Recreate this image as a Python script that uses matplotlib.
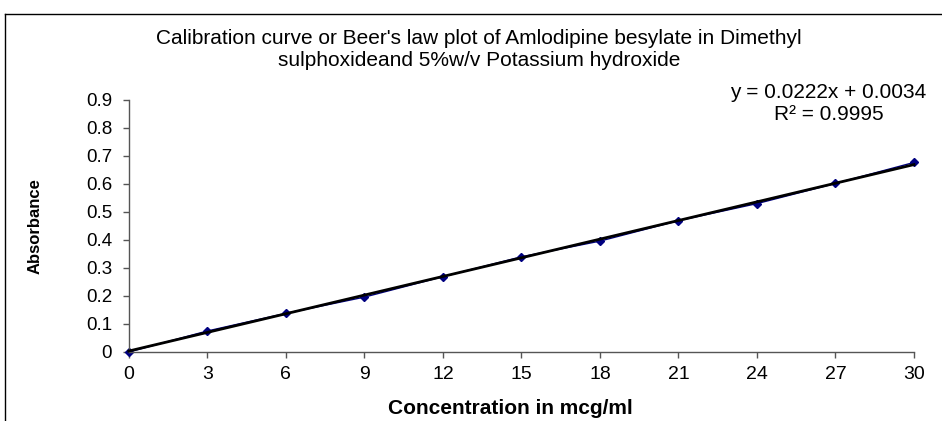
"""Calibration curve (Beer's law) of Amlodipine besylate, Excel-style chart."""

import matplotlib

matplotlib.use("Agg")
import matplotlib.pyplot as plt
from matplotlib.lines import Line2D

concentration = [0, 3, 6, 9, 12, 15, 18, 21, 24, 27, 30]
absorbance = [0.0, 0.075, 0.138, 0.196, 0.269, 0.340, 0.396, 0.469, 0.530, 0.602, 0.677]
fit_slope = 0.0222
fit_intercept = 0.0034
r_squared = 0.9995
x_ticks = [0, 3, 6, 9, 12, 15, 18, 21, 24, 27, 30]
y_ticks = [0, 0.1, 0.2, 0.3, 0.4, 0.5, 0.6, 0.7, 0.8, 0.9]
y_ticklabels = ["0", "0.1", "0.2", "0.3", "0.4", "0.5", "0.6", "0.7", "0.8", "0.9"]

plt.rcParams["font.family"] = ["Liberation Sans", "DejaVu Sans"]

W, H = 942, 421
fig = plt.figure(figsize=(W / 100, H / 100), dpi=100)

# chart area border (top + left visible, rest runs off the picture)
fig.add_artist(Line2D([5 / W, 1.0], [1 - 14 / H, 1 - 14 / H], transform=fig.transFigure, color="black", lw=1))
fig.add_artist(Line2D([5 / W, 5 / W], [0.0, 1 - 14 / H], transform=fig.transFigure, color="black", lw=1))

ax = fig.add_axes([128.8 / W, (H - 352) / H, (914 - 128.8) / W, 252 / H])

ax.plot(concentration, absorbance, color="#000080", lw=1, marker="D", ms=4, zorder=2, clip_on=False)
x_ends = [concentration[0], concentration[-1]]
ax.plot(x_ends, [fit_slope * x + fit_intercept for x in x_ends], color="black", lw=2, zorder=3, clip_on=False)

ax.set_xlim(0, 30)
ax.set_ylim(0, 0.9)
ax.set_xticks(x_ticks)
ax.set_yticks(y_ticks)
ax.set_yticklabels(y_ticklabels)
for side in ("top", "right"):
    ax.spines[side].set_visible(False)
for side in ("left", "bottom"):
    ax.spines[side].set_color("#555555")
    ax.spines[side].set_linewidth(1)
ax.tick_params(axis="both", direction="out", length=4, width=1, color="#555555")
ax.tick_params(axis="x", labelsize=14, pad=6)
ax.tick_params(axis="y", labelsize=13.5, pad=8)

ax.set_xlabel("Concentration in mcg/ml", fontsize=15, fontweight="bold")
ax.xaxis.set_label_coords(0.486, -0.185)
ax.set_ylabel("Absorbance", fontsize=12, fontweight="bold")
ax.yaxis.set_label_coords(-0.11, 0.5)

fig.text(479 / W, 1 - 38 / H, "Calibration curve or Beer's law plot of Amlodipine besylate in Dimethyl",
         ha="center", va="center", fontsize=15)
fig.text(479 / W, 1 - 60 / H, "sulphoxideand 5%w/v Potassium hydroxide",
         ha="center", va="center", fontsize=15)

fig.text(828 / W, 1 - 92 / H, f"y = {fit_slope}x + {fit_intercept}", ha="center", va="center", fontsize=15)
fig.text(829 / W, 1 - 114 / H, f"R² = {r_squared}", ha="center", va="center", fontsize=15)

fig.savefig("out.png", dpi=100)
